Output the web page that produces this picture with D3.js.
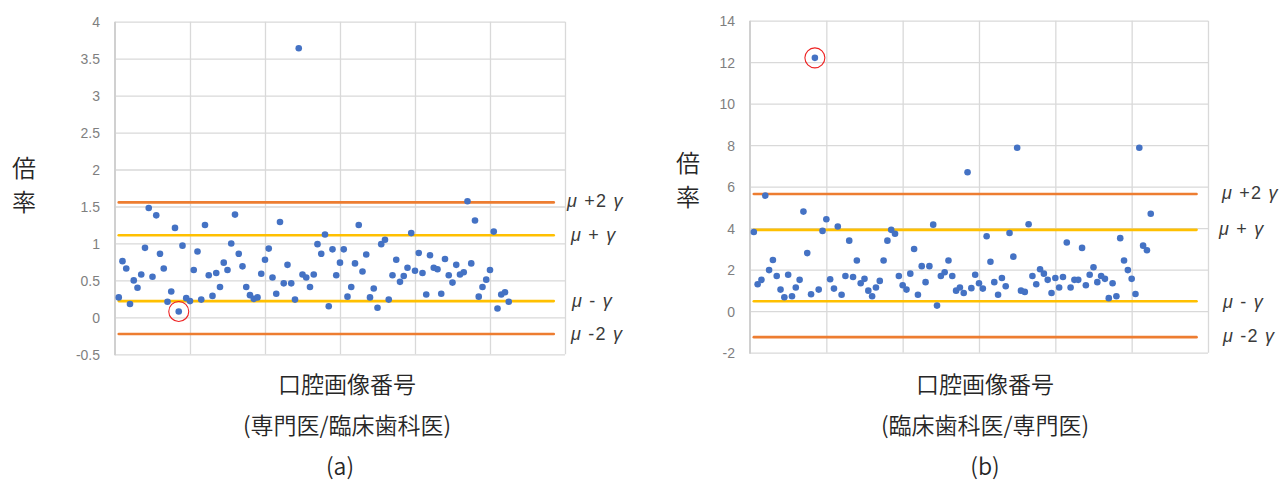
<!DOCTYPE html>
<html>
<head>
<meta charset="utf-8">
<script src="https://cdn.jsdelivr.net/npm/d3@7"></script>
<style>
  html, body { margin: 0; padding: 0; background: #fff; }
  svg { display: block; }
  .tick-label { font-family: "Liberation Sans", "Noto Sans", sans-serif; font-size: 14px; fill: #7f7f7f; }
  .jp { font-family: "Noto Sans CJK JP", "Noto Sans", sans-serif; font-weight: 350; fill: #262626; }
  .band-label { font-family: "Liberation Sans", "Noto Sans", sans-serif; font-size: 18px; letter-spacing: 1.2px; fill: #3a3a3a; }
</style>
</head>
<body>
<svg id="chart" width="1284" height="483"></svg>
<script>
// Ratio per oral image, specialist / clinical dentist (panel a)
const ratiosA = [
  0.27, 0.76, 0.66, 0.18, 0.50, 0.40, 0.58, 0.94, 1.48, 0.55,
  1.38, 0.86, 0.66, 0.21, 0.35, 1.21, 0.08, 0.97, 0.26, 0.22,
  0.64, 0.89, 0.24, 1.25, 0.57, 0.29, 0.60, 0.41, 0.74, 0.64,
  1.00, 1.39, 0.86, 0.69, 0.41, 0.30, 0.25, 0.27, 0.59, 0.78,
  0.93, 0.54, 0.32, 1.29, 0.46, 0.71, 0.46, 0.24, 3.64, 0.58,
  0.54, 0.41, 0.58, 0.99, 0.86, 1.12, 0.15, 0.92, 0.57, 0.74,
  0.92, 0.28, 0.41, 0.73, 1.25, 0.62, 0.85, 0.27, 0.39, 0.13,
  0.99, 1.05, 0.24, 0.57, 0.78, 0.48, 0.56, 0.67, 1.14, 0.63,
  0.87, 0.60, 0.31, 0.84, 0.67, 0.65, 0.32, 0.79, 0.57, 0.47,
  0.71, 0.58, 0.61, 1.57, 0.73, 1.31, 0.28, 0.41, 0.51, 0.64,
  1.16, 0.12, 0.31, 0.34, 0.21
];
// Ratio per oral image, clinical dentist / specialist (panel b)
const ratiosB = [
  3.82, 1.30, 1.51, 5.57, 1.98, 2.47, 1.70, 1.04, 0.67, 1.76,
  0.72, 1.14, 1.51, 4.80, 2.80, 0.82, 12.21, 1.04, 3.87, 4.43,
  1.54, 1.09, 4.08, 0.79, 1.70, 3.40, 1.65, 2.44, 1.35, 1.56,
  0.99, 0.72, 1.14, 1.46, 2.44, 3.40, 3.92, 3.73, 1.70, 1.25,
  1.04, 1.81, 3.00, 0.79, 2.17, 1.40, 2.17, 4.17, 0.27, 1.70,
  1.88, 2.44, 1.70, 0.99, 1.14, 0.88, 6.70, 1.11, 1.76, 1.35,
  1.09, 3.61, 2.38, 1.40, 0.79, 1.60, 1.20, 3.77, 2.63, 7.88,
  0.99, 0.93, 4.19, 1.70, 1.30, 2.02, 1.81, 1.51, 0.88, 1.60,
  1.14, 1.65, 3.31, 1.14, 1.51, 1.51, 3.05, 1.25, 1.76, 2.12,
  1.40, 1.70, 1.56, 0.63, 1.35, 0.72, 3.52, 2.44, 1.98, 1.56,
  0.83, 7.88, 3.16, 2.94, 4.70
];

// Control limits: μ+2γ, μ+γ, μ−γ, μ−2γ
const limitsA = [1.555, 1.11, 0.22, -0.225];
const limitsB = [5.65, 3.92, 0.48, -1.25];
const limitNames = [["μ", " +2 ", "γ"], ["μ", " + ", "γ"], ["μ", " - ", "γ"], ["μ", " -2 ", "γ"]];
const limitKinds = ["outer", "inner", "inner", "outer"];

// Images flagged as outliers (1-based image number)
const flaggedA = [17];
const flaggedB = [17];

const yTicksA = d3.range(-0.5, 4.01, 0.5);
const yTicksB = d3.range(-2, 14.01, 2);
const xGridTicks = [20, 40, 60, 80, 100, 120];
const limitSpan = [1, 117];

const svg = d3.select("#chart");
const colors = { dot: "#4472C4", outer: "#ED7D31", inner: "#FFC000", grid: "#d9d9d9", ring: "#ee2222" };

function drawPanel(opt) {
  const g = svg.append("g");
  const x = d3.scaleLinear().domain([0, 120]).range([opt.left, opt.right]);
  const y = d3.scaleLinear().domain(opt.yDomain).range([opt.bottom, opt.top]);

  // horizontal gridlines
  g.append("g")
    .attr("transform", `translate(${opt.left},0)`)
    .call(d3.axisLeft(y).tickValues(opt.yTicks).tickSize(-(opt.right - opt.left)).tickFormat(""))
    .call(a => a.select(".domain").remove())
    .call(a => a.selectAll("line").attr("stroke", colors.grid).attr("stroke-width", 1.3));

  // vertical gridlines
  g.append("g")
    .attr("transform", `translate(0,${opt.bottom})`)
    .call(d3.axisBottom(x).tickValues(xGridTicks).tickSize(-(opt.bottom - opt.top)).tickFormat(""))
    .call(a => a.select(".domain").remove())
    .call(a => a.selectAll("line").attr("stroke", colors.grid).attr("stroke-width", 1.3));

  // value axis line
  g.append("line")
    .attr("x1", opt.left).attr("x2", opt.left)
    .attr("y1", y(opt.yDomain[0]) + 1).attr("y2", y(opt.yDomain[1]))
    .attr("stroke", "#d0d0d0").attr("stroke-width", 2);

  // tick labels
  g.append("g")
    .attr("transform", `translate(${opt.left - 15},0)`)
    .call(d3.axisLeft(y).tickValues(opt.yTicks).tickSize(0).tickPadding(0).tickFormat(d => String(+d.toFixed(1))))
    .call(a => a.select(".domain").remove())
    .call(a => a.selectAll("text").attr("class", "tick-label").attr("font-size", null).attr("font-family", null).attr("fill", null).attr("dy", "0.35em"));

  // control limit lines
  g.selectAll(".limit").data(opt.limits).join("line")
    .attr("x1", x(limitSpan[0])).attr("x2", x(limitSpan[1]))
    .attr("y1", d => y(d)).attr("y2", d => y(d))
    .attr("stroke", (d, i) => colors[limitKinds[i]])
    .attr("stroke-width", 2.6).attr("stroke-linecap", "round");

  // points
  g.selectAll(".dot").data(opt.values).join("circle")
    .attr("cx", (d, i) => x(i + 1)).attr("cy", d => y(d))
    .attr("r", 3.3).attr("fill", colors.dot);

  // outlier rings
  g.selectAll(".ring").data(opt.flagged).join("circle")
    .attr("cx", d => x(d)).attr("cy", d => y(opt.values[d - 1]))
    .attr("r", 10).attr("fill", "none").attr("stroke", colors.ring).attr("stroke-width", 1.1);

  // limit labels
  const lbl = g.selectAll(".band").data(opt.limits).join("text")
    .attr("class", "band-label")
    .attr("x", (d, i) => opt.labelX[i])
    .attr("y", (d, i) => opt.labelY[i])
    .attr("dy", "0.35em");
  lbl.each(function(d, i) {
    const t = d3.select(this);
    const parts = limitNames[i];
    t.append("tspan").attr("font-style", "italic").text(parts[0]);
    t.append("tspan").text(parts[1]);
    t.append("tspan").attr("font-style", "italic").text(parts[2]);
  });

  // value axis title (vertical stack)
  ["倍", "率"].forEach((ch, k) => {
    g.append("text").attr("class", "jp")
      .attr("x", opt.yTitleX).attr("y", opt.yTitleY + k * 34)
      .attr("text-anchor", "middle").attr("dy", "0.35em")
      .attr("font-size", 24).text(ch);
  });

  // category axis title and caption
  g.append("text").attr("class", "jp").attr("x", opt.titleX).attr("y", 385)
    .attr("text-anchor", "middle").attr("dy", "0.35em").attr("font-size", 23).text("口腔画像番号");
  g.append("text").attr("class", "jp").attr("x", opt.titleX).attr("y", 426)
    .attr("text-anchor", "middle").attr("dy", "0.35em").attr("font-size", 23).text(opt.subtitle);
  g.append("text").attr("class", "jp").attr("x", opt.captionX).attr("y", 467)
    .attr("text-anchor", "middle").attr("dy", "0.35em").attr("font-size", 23).text(opt.caption);
}

drawPanel({
  left: 115, right: 565, top: 21.7, bottom: 354.3,
  yDomain: [-0.5, 4], yTicks: yTicksA,
  values: ratiosA, limits: limitsA, flagged: flaggedA,
  labelX: [567, 571, 572, 571], labelY: [201, 235, 301, 334],
  yTitleX: 24, yTitleY: 169,
  titleX: 347, captionX: 340,
  subtitle: "(専門医/臨床歯科医)", caption: "(a)"
});

drawPanel({
  left: 750, right: 1208, top: 20.7, bottom: 352.7,
  yDomain: [-2, 14], yTicks: yTicksB,
  values: ratiosB, limits: limitsB, flagged: flaggedB,
  labelX: [1222, 1219, 1223, 1223], labelY: [193, 229, 302, 336],
  yTitleX: 688, yTitleY: 164,
  titleX: 985, captionX: 985,
  subtitle: "(臨床歯科医/専門医)", caption: "(b)"
});
</script>
</body>
</html>
